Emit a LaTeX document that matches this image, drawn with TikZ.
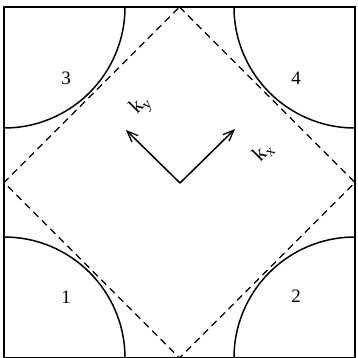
\documentclass[tikz,border=0pt]{standalone}
\usepackage{fontspec}
\setmainfont{Liberation Serif}
\usetikzlibrary{arrows.meta}
\begin{document}
\begin{tikzpicture}[x=1pt,y=-1pt,
  frame/.style={line width=1.6pt},
  arcline/.style={line width=1.5pt},
  dashline/.style={line width=1.3pt,dash pattern=on 7pt off 5pt},
  vec/.style={line width=1.5pt,-{Straight Barb[length=11pt,width=9pt,line width=1.3pt]}},
  num/.style={font=\fontsize{19}{22}\selectfont},
  klabel/.style={font=\fontsize{21}{24}\selectfont,rotate=45,inner sep=0pt}]
\useasboundingbox (0,0) rectangle (357,358);
% frame
\draw[frame] (4,358) -- (4,7) -- (355,7) -- (355,358) -- cycle;
% quarter circles
\draw[arcline] (125,7) arc[start angle=0,end angle=90,radius=121];
\draw[arcline] (234,7) arc[start angle=180,end angle=90,radius=121];
\draw[arcline] (4,237) arc[start angle=-90,end angle=0,radius=121];
\draw[arcline] (234,358) arc[start angle=180,end angle=270,radius=121];
% diamond
\coordinate (T) at (179.5,7);
\coordinate (R) at (355,182.5);
\coordinate (B) at (179.5,358);
\coordinate (L) at (4,182.5);
\draw[dashline] (T) -- (R) -- (B) -- (L) -- cycle;
% numbers
\node[num] (n3) at (66,78) {3};
\node[num] (n4) at (296,78) {4};
\node[num] (n1) at (66,297) {1};
\node[num] (n2) at (296,296) {2};
% vectors
\coordinate (O) at (180,183);
\coordinate (KX) at (235,129);
\coordinate (KY) at (126,130);
\draw[vec] (O) -- (KX);
\draw[vec] (O) -- (KY);
\node[klabel] (ky) at (141,106) {k\raisebox{-4pt}{\fontsize{15}{17}\selectfont y}};
\node[klabel] (kx) at (263,152) {k\raisebox{-4pt}{\fontsize{15}{17}\selectfont x}};
\end{tikzpicture}
\end{document}
